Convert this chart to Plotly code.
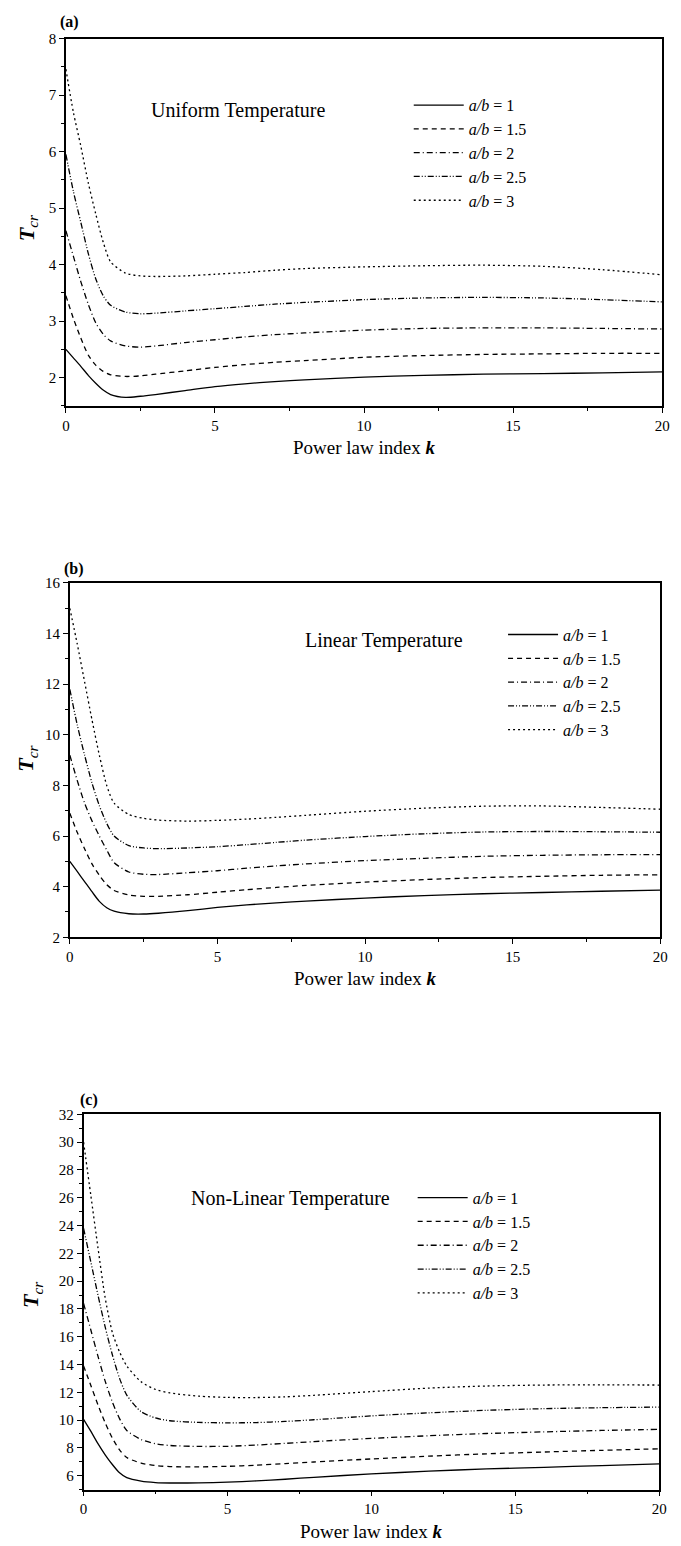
import plotly.graph_objects as go

# ---------------- data ----------------
k = [0, 0.25, 0.5, 0.75, 1, 1.25, 1.5, 2, 2.5, 3, 4, 5, 6, 7, 8, 10, 12, 14, 16, 18, 20]
ratios = ["1", "1.5", "2", "2.5", "3"]

# (a) Uniform temperature
uni_1 = [2.50, 2.35, 2.20, 2.04, 1.90, 1.78, 1.70, 1.65, 1.67, 1.70, 1.77, 1.84, 1.89, 1.93, 1.96, 2.01, 2.04, 2.06, 2.07, 2.085, 2.10]
uni_15 = [3.45, 3.05, 2.70, 2.40, 2.22, 2.11, 2.05, 2.02, 2.03, 2.06, 2.12, 2.18, 2.23, 2.27, 2.30, 2.36, 2.39, 2.41, 2.42, 2.43, 2.43]
uni_2 = [4.60, 4.15, 3.70, 3.30, 2.97, 2.77, 2.65, 2.56, 2.54, 2.56, 2.62, 2.67, 2.72, 2.76, 2.79, 2.84, 2.87, 2.88, 2.88, 2.87, 2.86]
uni_25 = [5.95, 5.30, 4.75, 4.20, 3.75, 3.45, 3.28, 3.16, 3.13, 3.14, 3.18, 3.22, 3.26, 3.30, 3.33, 3.38, 3.41, 3.42, 3.41, 3.38, 3.34]
uni_3 = [7.46, 6.70, 6.10, 5.45, 4.90, 4.40, 4.05, 3.85, 3.80, 3.79, 3.80, 3.83, 3.86, 3.90, 3.93, 3.96, 3.98, 3.99, 3.97, 3.91, 3.82]

# (b) Linear temperature
lin_1 = [5.00, 4.60, 4.20, 3.80, 3.42, 3.17, 3.03, 2.93, 2.92, 2.95, 3.05, 3.18, 3.28, 3.36, 3.43, 3.55, 3.65, 3.72, 3.77, 3.82, 3.86]
lin_15 = [6.90, 6.15, 5.50, 4.90, 4.45, 4.08, 3.85, 3.67, 3.62, 3.62, 3.68, 3.78, 3.88, 3.97, 4.05, 4.18, 4.28, 4.36, 4.41, 4.45, 4.47]
lin_2 = [9.20, 8.20, 7.30, 6.60, 6.00, 5.45, 4.95, 4.58, 4.49, 4.48, 4.55, 4.63, 4.73, 4.82, 4.90, 5.03, 5.12, 5.20, 5.24, 5.26, 5.27]
lin_25 = [11.8, 10.4, 9.20, 8.10, 7.20, 6.50, 6.00, 5.62, 5.53, 5.50, 5.53, 5.58, 5.66, 5.75, 5.84, 5.98, 6.09, 6.16, 6.18, 6.17, 6.15]
lin_3 = [15.0, 13.6, 12.1, 10.6, 9.20, 8.00, 7.30, 6.85, 6.70, 6.63, 6.59, 6.62, 6.67, 6.74, 6.82, 6.98, 7.10, 7.18, 7.19, 7.13, 7.06]

# (c) Non-linear temperature
non_1 = [10.05, 9.20, 8.30, 7.50, 6.80, 6.20, 5.85, 5.60, 5.50, 5.47, 5.48, 5.53, 5.62, 5.74, 5.88, 6.12, 6.32, 6.48, 6.60, 6.72, 6.85]
non_15 = [13.9, 12.5, 11.1, 9.80, 8.70, 7.85, 7.30, 6.90, 6.72, 6.65, 6.63, 6.67, 6.75, 6.87, 6.98, 7.20, 7.40, 7.57, 7.70, 7.82, 7.93]
non_2 = [18.4, 16.5, 14.6, 12.8, 11.3, 10.1, 9.25, 8.60, 8.30, 8.17, 8.10, 8.11, 8.20, 8.32, 8.45, 8.68, 8.87, 9.03, 9.15, 9.25, 9.33]
non_25 = [23.8, 21.4, 19.0, 16.7, 14.7, 13.0, 11.8, 10.6, 10.15, 9.95, 9.83, 9.80, 9.82, 9.90, 10.02, 10.30, 10.52, 10.70, 10.82, 10.89, 10.93]
non_3 = [30.0, 26.2, 22.4, 18.8, 16.3, 14.9, 13.9, 12.75, 12.2, 11.95, 11.72, 11.63, 11.62, 11.67, 11.78, 12.05, 12.30, 12.45, 12.52, 12.53, 12.52]

panels = [
    ("(a)", "Uniform Temperature", [uni_1, uni_15, uni_2, uni_25, uni_3]),
    ("(b)", "Linear Temperature", [lin_1, lin_15, lin_2, lin_25, lin_3]),
    ("(c)", "Non-Linear Temperature", [non_1, non_15, non_2, non_25, non_3]),
]

# ---------------- layout helpers ----------------
W, H = 681, 1546
FONT = "Liberation Serif"
dashes = ["solid", "5px,4px", "6px,3px,1px,3px", "6px,2px,1px,2px,1px,2px", "2px,3px"]

# pixel boxes: left, right, top, bottom
boxes = [(63, 670, 31, 402), (67, 668, 581, 939), (81, 667, 1118, 1497)]
yranges = [(1.5, 8), (2, 16), (5, 32)]
ydticks = [1, 2, 2]
legend_pos = [(412, 81), (508, 616), (416, 1185)]
note_pos = [(148, 104), (304, 639), (188, 1203)]
label_pos = [(55, 14), (59, 567), (75, 1103)]
ytitle_pos = [(24, 222), (24, 758), (28, 1300)]


def px(x):
    return x / W


def py(y):
    return 1 - y / H


fig = go.Figure()
annotations = []
layout = dict(
    width=W, height=H, margin=dict(l=0, r=0, t=0, b=0),
    paper_bgcolor="white", plot_bgcolor="white",
    font=dict(family=FONT, size=15, color="black"),
    showlegend=True,
)

for i, (tag, note, series) in enumerate(panels):
    n = "" if i == 0 else str(i + 1)
    xa, ya = "x" + n, "y" + n
    lg = "legend" + n
    for j, vals in enumerate(series):
        fig.add_trace(go.Scatter(
            x=k, y=vals, mode="lines",
            line=dict(color="black", width=1.3, dash=dashes[j], shape="spline", smoothing=0.7),
            name="<i>a/b</i> = " + ratios[j],
            xaxis=xa, yaxis=ya, legend=lg,
        ))
    l, r, t, b = boxes[i]
    axis_common = dict(
        showline=True, linecolor="black", linewidth=1.5, mirror=True,
        ticks="outside", ticklen=5, tickwidth=1.3, tickcolor="black",
        showgrid=False, zeroline=False,
        tickfont=dict(family=FONT, size=15, color="black"),
    )
    layout["xaxis" + n] = dict(
        axis_common, domain=[px(l), px(r)], anchor=ya, range=[0, 20],
        tick0=0, dtick=5,
        minor=dict(ticks="outside", ticklen=3, tickcolor="black", dtick=2.5, tick0=0, showgrid=False),
    )
    layout["yaxis" + n] = dict(
        axis_common, domain=[py(b), py(t)], anchor=xa, range=list(yranges[i]),
        tick0=0, dtick=ydticks[i],
        minor=dict(ticks="outside", ticklen=3, tickcolor="black", dtick=ydticks[i] / 2, tick0=0, showgrid=False),
    )
    lx, ly = legend_pos[i]
    layout[lg] = dict(
        x=px(lx), y=py(ly), xanchor="left", yanchor="top",
        bgcolor="rgba(0,0,0,0)", borderwidth=0,
        font=dict(family=FONT, size=16, color="black"),
        itemwidth=50, tracegroupgap=0,
    )
    nx, ny = note_pos[i]
    annotations.append(dict(text=note, x=px(nx), y=py(ny), xref="paper", yref="paper",
                            xanchor="left", yanchor="middle", showarrow=False,
                            font=dict(family=FONT, size=20, color="black")))
    tx, ty = label_pos[i]
    annotations.append(dict(text="<b>" + tag + "</b>", x=px(tx), y=py(ty), xref="paper", yref="paper",
                            xanchor="left", yanchor="middle", showarrow=False,
                            font=dict(family=FONT, size=16, color="black")))
    annotations.append(dict(text="Power law index <b><i>k</i></b>", x=px((l + r) / 2), y=py(b + 42),
                            xref="paper", yref="paper", xanchor="center", yanchor="middle",
                            showarrow=False, font=dict(family=FONT, size=19, color="black")))
    yx, yy = ytitle_pos[i]
    annotations.append(dict(text="<b><i>T</i></b><sub><i>cr</i></sub>", x=px(yx), y=py(yy),
                            xref="paper", yref="paper", xanchor="center", yanchor="middle",
                            textangle=-90, showarrow=False,
                            font=dict(family=FONT, size=22, color="black")))

layout["annotations"] = annotations
fig.update_layout(**layout)
fig.write_html("out.html")
